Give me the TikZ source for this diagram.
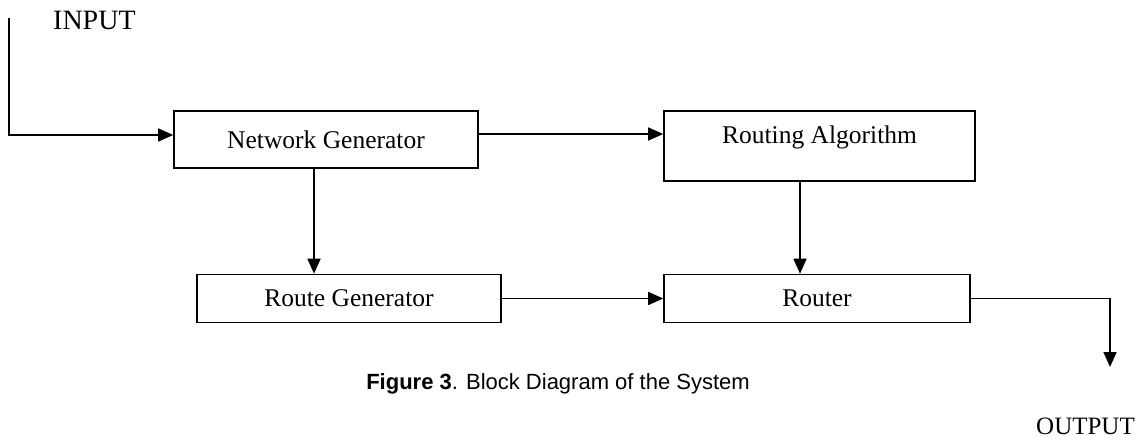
\documentclass[tikz,border=0pt]{standalone}
\usepackage{fontspec}
\setmainfont{Liberation Serif}
\setsansfont{Liberation Sans}
\usetikzlibrary{arrows.meta}
\begin{document}
\begin{tikzpicture}[x=1pt,y=-1pt,
  blk/.style={draw,line width=1.6pt,inner sep=0pt,font=\fontsize{25.5}{28}\selectfont},
  lbl/.style={inner sep=0pt,font=\fontsize{25}{28}\selectfont},
  arr/.style={line width=1.6pt,-{Triangle[length=15pt,width=13pt]}}]
\useasboundingbox (0,0) rectangle (1139,439);
\node[blk,minimum width=304pt,minimum height=57pt] (ng) at (326,139.5) {Network Generator};
\node[blk,minimum width=311pt,minimum height=70pt,text depth=22pt] (ra) at (819.5,146) {Routing Algorithm};
\node[blk,minimum width=304pt,minimum height=48pt] (rg) at (349,298.5) {Route Generator};
\node[blk,minimum width=306pt,minimum height=48pt] (ro) at (817,298.5) {Router};
\node[lbl,anchor=west,font=\fontsize{28}{30}\selectfont] (in) at (53,20) {INPUT};
\node[lbl,anchor=east] (out) at (1135,426) {OUTPUT};
\node[inner sep=0pt,font=\sffamily\fontsize{22}{24}\selectfont] (cap) at (558,384) {\textbf{Figure 3}. Block Diagram of the System};
\coordinate (ist) at (9,18);
\coordinate (oe) at (1110,367);
\draw[arr] (ist) |- ([yshift=4.5pt]ng.west);
\draw[arr] ([yshift=5.5pt]ng.east) -- ([yshift=5.5pt]ng.east -| ra.west);
\draw[arr] ([xshift=-12pt]ng.south) -- ([xshift=-12pt]ng.south |- rg.north);
\draw[arr] ([xshift=-19.5pt]ra.south) -- ([xshift=-19.5pt]ra.south |- ro.north);
\draw[arr] (rg.east) -- (rg.east -| ro.west);
\draw[arr] (ro.east) -| (oe);
\end{tikzpicture}
\end{document}
